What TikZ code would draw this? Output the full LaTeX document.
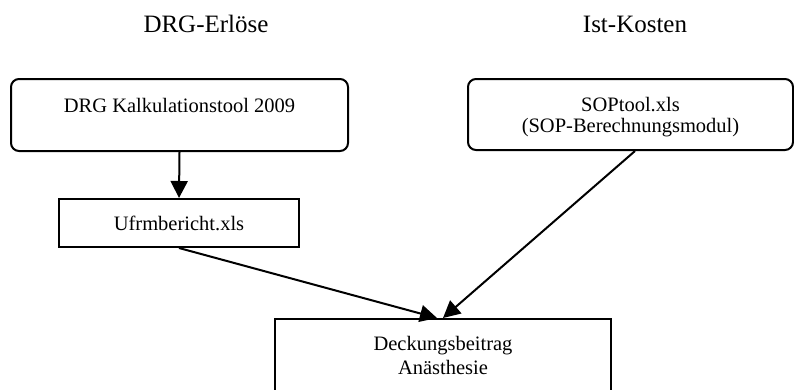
\documentclass[tikz,border=0pt]{standalone}
\usepackage{fontspec}
\setmainfont{Liberation Serif}
\usetikzlibrary{arrows.meta}
\begin{document}
\begin{tikzpicture}[x=1pt,y=-1pt,
  boxline/.style={draw=black, line width=2pt},
  rbox/.style={boxline, rectangle, rounded corners=8pt, inner sep=0pt},
  sbox/.style={boxline, rectangle, inner sep=0pt},
  title/.style={font=\fontsize{25}{28}\selectfont, anchor=base, inner sep=0pt},
  txt/.style={font=\fontsize{20.5}{23}\selectfont, anchor=base, inner sep=0pt, align=center},
  arr/.style={line width=2pt, -{Triangle[length=17pt,width=17pt]}}
]
\clip (0,0) rectangle (794,389);
\fill[white] (0,0) rectangle (794,389);

\node[title] (t1) at (206,32) {DRG-Erlöse};
\node[title] (t2) at (635,32) {Ist-Kosten};

\node[rbox, minimum width=337pt, minimum height=72pt] (drg) at (179.5,115) {};
\node[txt] (drgt) at (179.5,112) {DRG Kalkulationstool 2009};

\node[rbox, minimum width=325pt, minimum height=71pt] (sop) at (630.5,114.5) {};
\node[txt] (sopt1) at (630.5,111) {SOPtool.xls};
\node[txt] (sopt2) at (630.5,132) {(SOP-Berechnungsmodul)};

\node[sbox, minimum width=240pt, minimum height=48pt] (ufrm) at (179,223) {};
\node[txt] (ufrmt) at (179,230) {Ufrmbericht.xls};

\node[sbox, minimum width=336pt, minimum height=110pt] (deck) at (443,374) {};
\node[txt] (deckt1) at (443,350) {Deckungsbeitrag};
\node[txt] (deckt2) at (443,374) {Anästhesie};

\draw[arr] (drg.south) -- (ufrm.north);
\draw[arr] (ufrm.south) -- ([xshift=-6pt]deck.north);
\draw[arr] ([xshift=4.5pt]sop.south) -- (deck.north);
\end{tikzpicture}
\end{document}
